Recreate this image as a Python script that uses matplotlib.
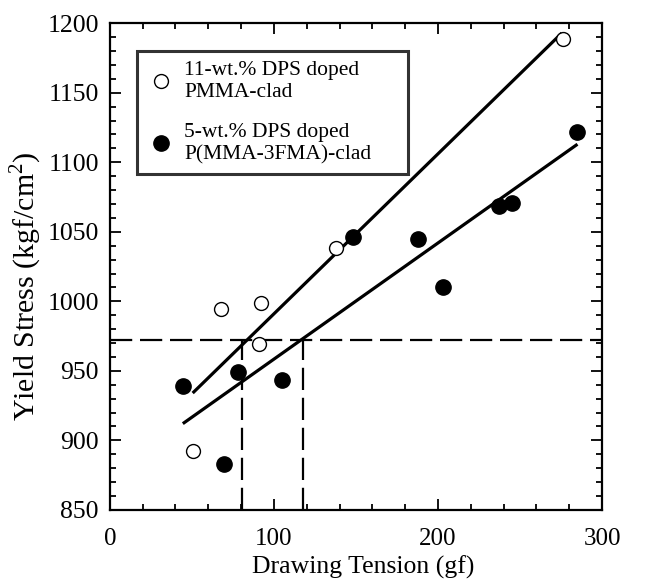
import numpy as np
import matplotlib
matplotlib.use('Agg')
import matplotlib.pyplot as plt
from matplotlib.ticker import MultipleLocator

plt.rcParams['font.family'] = ['Liberation Serif', 'DejaVu Serif']
plt.rcParams['mathtext.fontset'] = 'custom'
plt.rcParams['mathtext.rm'] = 'Liberation Serif'

# 11-wt.% DPS doped PMMA-clad (open circles)
x_open = [50.5, 68, 91, 92, 138, 276]
y_open = [892, 994.5, 969, 999, 1038, 1188.5]

# 5-wt.% DPS doped P(MMA-3FMA)-clad (filled circles)
x_fill = [44.5, 69.5, 78, 105, 148, 188, 203, 237, 245, 285]
y_fill = [939, 883, 949, 943.5, 1046, 1045, 1010, 1068.5, 1071, 1122]

# fitted lines (end points)
fit_open_x = [50.5, 275.5]
fit_open_y = [934, 1193]
fit_fill_x = [44.5, 285]
fit_fill_y = [912, 1113]

# dashed guide lines
y_level = 972
x_cross = [80.5, 117.7]

fig = plt.figure(figsize=(6.46, 5.82), dpi=100)
ax = fig.add_axes([0.170, 0.124, 0.762, 0.836])

ax.plot(fit_open_x, fit_open_y, color='black', lw=2.3, solid_capstyle='butt')
ax.plot(fit_fill_x, fit_fill_y, color='black', lw=2.3, solid_capstyle='butt')

ax.plot([0, 300], [y_level, y_level], color='black', lw=1.6, dashes=(10, 3.5))
for xc in x_cross:
    ax.plot([xc, xc], [850, y_level], color='black', lw=1.6, dashes=(10, 3.5))

ax.plot(x_open, y_open, 'o', mfc='white', mec='black', mew=1.0, ms=10,
        label='11-wt.% DPS doped\nPMMA-clad', zorder=5)
ax.plot(x_fill, y_fill, 'o', mfc='black', mec='black', ms=11,
        label='5-wt.% DPS doped\nP(MMA-3FMA)-clad', zorder=5)

ax.set_xlim(0, 300)
ax.set_ylim(850, 1200)
ax.xaxis.set_major_locator(MultipleLocator(100))
ax.xaxis.set_minor_locator(MultipleLocator(20))
ax.yaxis.set_major_locator(MultipleLocator(50))
ax.yaxis.set_minor_locator(MultipleLocator(10))
ax.tick_params(which='both', direction='in', top=True, right=True, width=1.3)
ax.tick_params(which='major', length=8)
ax.tick_params(which='minor', length=4.5)
ax.tick_params(axis='x', which='major', pad=13, labelsize=18)
ax.tick_params(axis='y', which='major', pad=8, labelsize=18.5)
for s in ax.spines.values():
    s.set_linewidth(1.6)

ax.set_xlabel('Drawing Tension (gf)', fontsize=18.5)
ax.xaxis.set_label_coords(0.515, -0.095)
ax.set_ylabel('Yield Stress (kgf/cm$^2$)', fontsize=21.5)
ax.yaxis.set_label_coords(-0.134, 0.46)

leg = ax.legend(loc='upper left', bbox_to_anchor=(0.055, 0.69, 0.551, 0.2525),
                mode='expand', fontsize=15.5,
                frameon=True, fancybox=False, edgecolor='black',
                handletextpad=0.45, handlelength=1.3, labelspacing=1.0,
                borderpad=0.45, borderaxespad=0)
leg.get_frame().set_linewidth(2.2)

fig.savefig('out.png', dpi=100)
